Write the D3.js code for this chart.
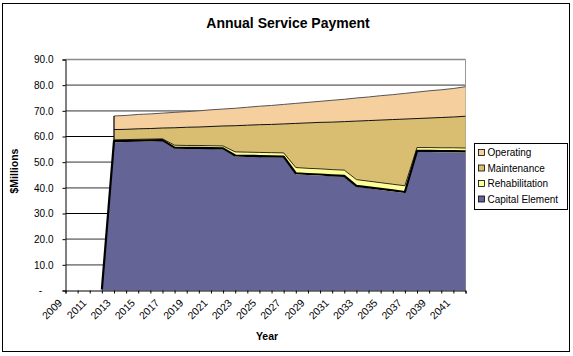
<!DOCTYPE html>
<html><head><meta charset="utf-8">
<script src="https://cdn.jsdelivr.net/npm/d3@7"></script>
<style>
body{margin:0;background:#fff}
svg{display:block}
text{font-family:"Liberation Sans",Arial,Helvetica,sans-serif;fill:#000}
</style>
</head><body>
<svg id="c" width="573" height="356"></svg>
<script>
const years = [2009,2010,2011,2012,2013,2014,2015,2016,2017,2018,2019,2020,2021,2022,2023,2024,2025,2026,2027,2028,2029,2030,2031,2032,2033,2034,2035,2036,2037,2038,2039,2040,2041,2042];
const capital = [0,0,0,0, 57.8,57.9,58.0,58.1,58.2, 55.3,55.2,55.2,55.1,55.0, 52.2,52.1,52.0,51.9,51.8, 45.3,45.0,44.8,44.5,44.3, 40.4,39.8,39.2,38.6,38.0, 54.0,54.0,53.9,53.9,53.8];
const rehab = [null,null,null,null, 0.9,0.9,0.9,0.9,0.9, 1.3,1.3,1.3,1.3,1.3, 1.8,1.8,1.8,1.8,1.8, 2.6,2.6,2.6,2.6,2.6, 2.8,2.8,2.8,2.8,2.8, 1.7,1.7,1.7,1.7,1.7];
const maintenance = [null,null,null,null, 4.0,4.0,4.1,4.1,4.2, 6.8,7.1,7.2,7.5,7.8, 10.2,10.5,10.8,11.0,11.3, 17.2,17.7,18.1,18.5,18.9, 22.8,23.6,24.4,25.2,26.0, 11.3,11.5,11.8,12.0,12.4];
const operating = [null,null,null,null, 5.3,5.4,5.6,5.7,5.8, 6.0,6.1,6.3,6.5,6.6, 6.8,7.0,7.2,7.4,7.6, 7.8,8.0,8.2,8.5,8.7, 9.0,9.2,9.5,9.7,10.0, 10.3,10.6,10.8,11.1,11.5];
const seriesNames = ["Capital Element","Rehabilitation","Maintenance","Operating"];
const seriesColors = ["#646496","#FFFF99","#D9BE72","#F6CF9E"];
const yTicks = [0,10,20,30,40,50,60,70,80,90];
const xLabelYears = [2009,2011,2013,2015,2017,2019,2021,2023,2025,2027,2029,2031,2033,2035,2037,2039,2041];

const svg = d3.select("#c");
svg.append("rect").attr("x",2.5).attr("y",3.5).attr("width",567).attr("height",348)
  .attr("fill","#fff").attr("stroke","#000").attr("stroke-width",1);

const x = d3.scalePoint().domain(years).range([65.5,465.5]);
const y = d3.scaleLinear().domain([0,90]).range([290.5,59.5]);

// gridlines (back wall)
const darkGrid = [30,60];
svg.append("g").selectAll("line").data(yTicks.filter(d=>d>0)).join("line")
  .attr("x1",65.5).attr("x2",465.5).attr("y1",d=>y(d)).attr("y2",d=>y(d))
  .attr("stroke",d=>darkGrid.includes(d)?"#000":"#8a8a8a")
  .attr("stroke-width",d=>darkGrid.includes(d)?1:1.6);
svg.append("line").attr("x1",465.5).attr("x2",465.5).attr("y1",y(90)).attr("y2",y(0))
  .attr("stroke","#999");

// stacking
const raw = [capital, rehab, maintenance, operating];
const table = years.map((yr,i)=>{
  const o = {year:yr};
  seriesNames.forEach((n,k)=>{ o[n] = raw[k][i]==null?0:raw[k][i]; });
  return o;
});
const stacked = d3.stack().keys(seriesNames)(table);
const firstIdx = rehab.findIndex(v=>v!=null);

stacked.forEach((layer,k)=>{
  const def = (d,i)=> raw[k][i]!=null;
  const area = d3.area().defined(def).x(d=>x(d.data.year)).y0(d=>y(d[0])).y1(d=>y(d[1]));
  svg.append("path").datum(layer).attr("d",area).attr("fill",seriesColors[k]).attr("stroke","none");
});
// edges (3D-ish dark tops)
const topWidth = [2.2,0.8,1,1];
const topColor = ["#000","#000","#111","#555"];
stacked.forEach((layer,k)=>{
  const def = k===0 ? (d,i)=> i>=firstIdx-1 : (d,i)=> raw[k][i]!=null;
  const line = d3.line().defined(def).x(d=>x(d.data.year)).y(d=>y(d[1]) - (k===0?1:0));
  svg.append("path").datum(layer).attr("d",line).attr("fill","none")
    .attr("stroke",topColor[k]).attr("stroke-width",topWidth[k]).attr("stroke-linejoin","round");
});
svg.append("line")
  .attr("x1",x(years[firstIdx])).attr("x2",x(years[firstIdx]))
  .attr("y1",y(stacked[3][firstIdx][1])).attr("y2",y(stacked[0][firstIdx][1]))
  .attr("stroke","#000").attr("stroke-width",1.2);

// axes
const yAxis = d3.axisLeft(y).tickValues(yTicks).tickSize(3).tickPadding(9)
  .tickFormat(d=> d===0 ? "-" : d.toFixed(1));
const gy = svg.append("g").attr("transform","translate(65.5,0)").call(yAxis);
gy.select(".domain").attr("stroke","#000");
gy.selectAll("text").attr("font-size",10).attr("font-family",null);
gy.selectAll(".tick").filter(d=>d===0).select("text").attr("text-anchor","middle").attr("x",-25);

const xAxis = d3.axisBottom(x).tickSize(3).tickFormat(d=> xLabelYears.includes(d) ? d : "");
const gx = svg.append("g").attr("transform","translate(0,290.5)").call(xAxis);
gx.select(".domain").attr("stroke","#000");
gx.selectAll("text").attr("font-size",10.5).attr("font-family",null)
  .attr("text-anchor","end").attr("y",0).attr("dy",0)
  .attr("transform","translate(-3,13) rotate(-45)");

// titles
svg.append("text").attr("x",288).attr("y",28).attr("text-anchor","middle")
  .attr("font-size",14).attr("font-weight","bold").text("Annual Service Payment");
svg.append("text").attr("x",267).attr("y",340).attr("text-anchor","middle")
  .attr("font-size",10.5).attr("font-weight","bold").text("Year");
svg.append("text").attr("transform","translate(18,171) rotate(-90)").attr("text-anchor","middle")
  .attr("font-size",10.5).attr("font-weight","bold").text("$Millions");

// legend
const lg = svg.append("g");
lg.append("rect").attr("x",474.5).attr("y",143.5).attr("width",93).attr("height",66)
  .attr("fill","#fff").attr("stroke","#000");
const legendOrder = [3,2,1,0];
legendOrder.forEach((k,i)=>{
  const cy = 153 + i*15.5;
  lg.append("rect").attr("x",478.5).attr("y",cy-3.5).attr("width",6).attr("height",6)
    .attr("fill",seriesColors[k]).attr("stroke","#000").attr("stroke-width",0.8);
  lg.append("text").attr("x",487.5).attr("y",cy+3.4).attr("font-size",10).text(seriesNames[k]);
});
</script>
</body></html>
